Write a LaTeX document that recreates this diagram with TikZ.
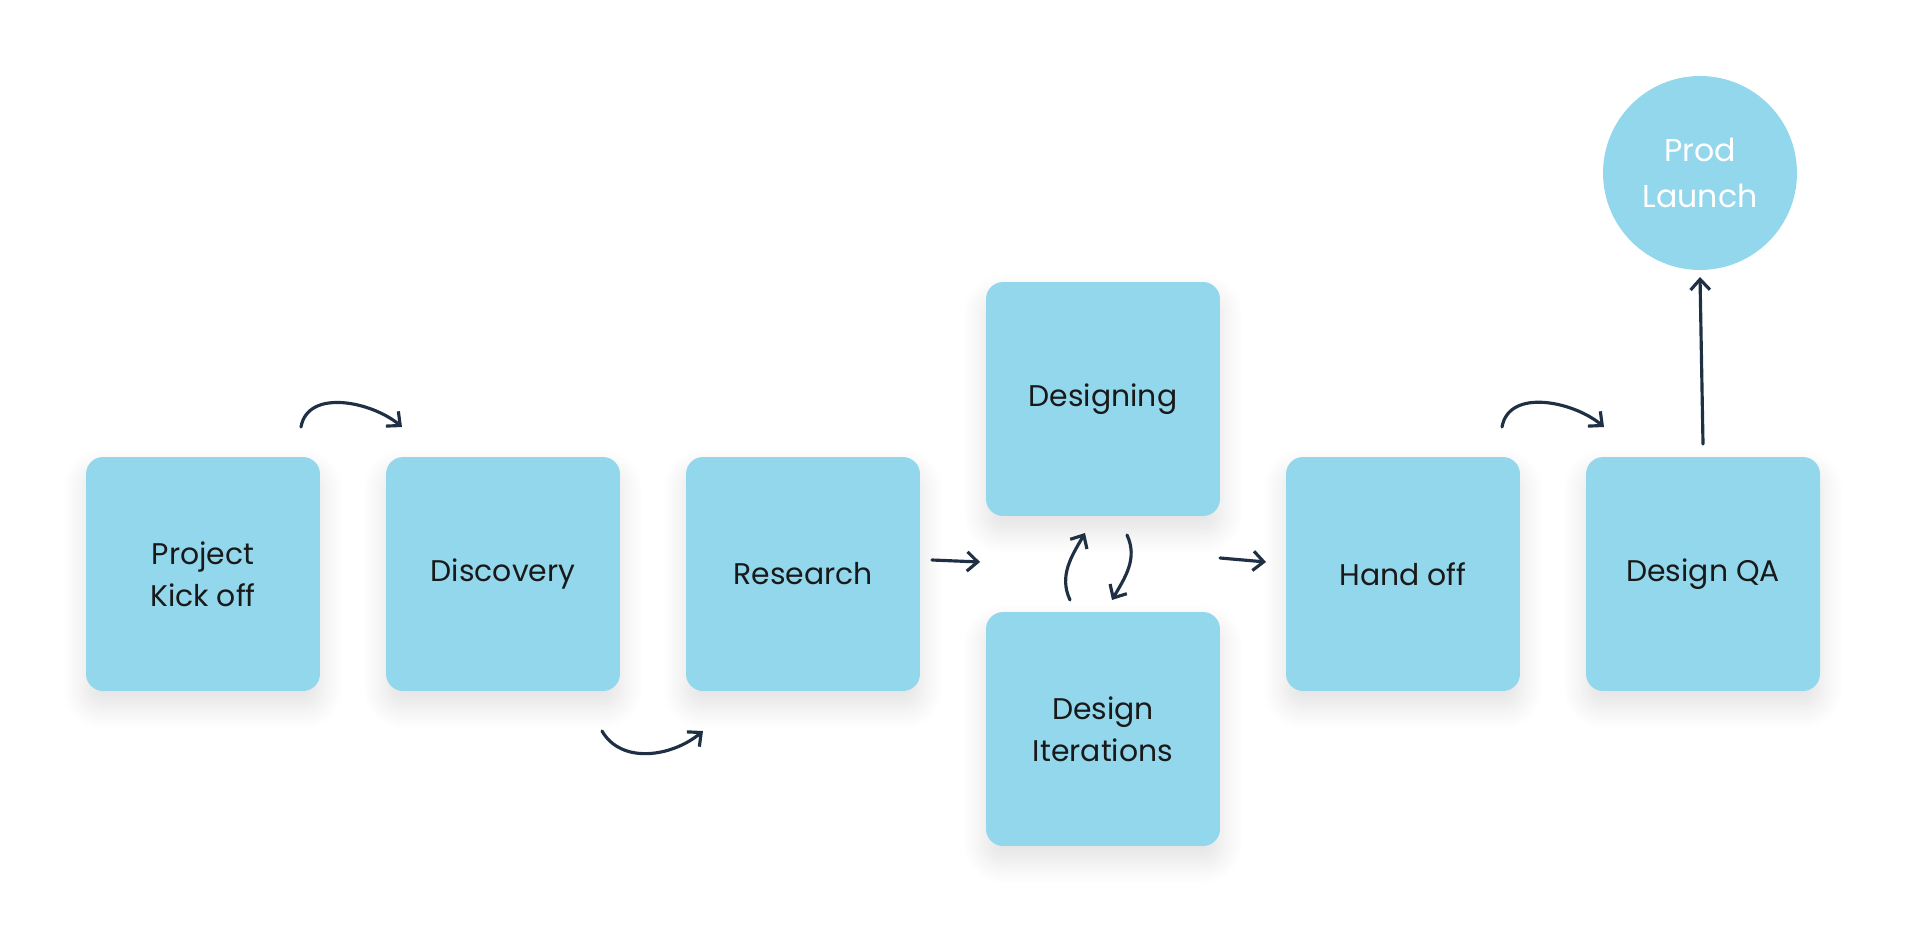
\documentclass[tikz,border=0pt]{standalone}
\usepackage{fontspec}
\setmainfont{Poppins}
\usetikzlibrary{arrows.meta}
\usetikzlibrary{shadows.blur}
\usetikzlibrary{positioning}

\definecolor{stageblue}{HTML}{93D7EC}
\definecolor{inkdark}{HTML}{1F2F44}

\tikzset{
  stage/.style={rectangle, rounded corners=0.34cm, fill=stageblue, minimum size=4.68cm,
    align=center, text=black!90, font=\fontsize{17}{24}\selectfont,
    blur shadow={shadow xshift=0pt, shadow yshift=-0.3cm, shadow blur radius=0.45cm,
      shadow blur steps=14, shadow opacity=12}},
  launch/.style={circle, fill=stageblue, minimum size=3.88cm, align=center, text=white,
    font=\fontsize{18}{26}\selectfont},
  flow/.style={draw=inkdark, line width=1.8pt, line cap=round, -{Straight Barb[length=6pt,width=11pt]}}
}

\begin{document}
\begin{tikzpicture}[x=0.02cm, y=0.02cm]
        \useasboundingbox (0,0) rectangle (1920,924);

        \node[stage] (kickoff) at (203, 350) {Project\\Kick off};
        \node[stage] (discovery) at (503, 350) {Discovery};
        \node[stage] (research) at (803, 350) {Research};
        \node[stage] (designing) at (1103, 525) {Designing};
        \node[stage] (iterations) at (1103, 195) {Design\\Iterations};
        \node[stage] (handoff) at (1403, 350) {Hand off};
        \node[stage] (designqa) at (1703, 350) {Design QA};
        \node[launch] (prodlaunch) at (1700, 751) {Prod\\Launch};

        % loose ends of the hand drawn arrows
        \coordinate (k1) at (301, 497);
        \coordinate (k2) at (402, 497);
        \coordinate (d1) at (602, 193);
        \coordinate (d2) at (703, 193);
        \coordinate (r1) at (932, 364);
        \coordinate (r2) at (980, 362);
        \coordinate (l1) at (1070, 324);
        \coordinate (l2) at (1085, 391);
        \coordinate (l3) at (1127, 389);
        \coordinate (l4) at (1112, 324);
        \coordinate (h1) at (1220, 366);
        \coordinate (h2) at (1266, 362);
        \coordinate (q1) at (1502, 497);
        \coordinate (q2) at (1604, 497);
        \coordinate (p1) at (1703, 480);
        \coordinate (p2) at (1700, 647);

        \draw[flow] (k1) to[out=80, in=140] (k2);
        \draw[flow] (d1) to[out=-60, in=220] (d2);
        \draw[flow] (r1) -- (r2);
        \draw[flow] (l1) to[out=115, in=240] (l2);
        \draw[flow] (l3) to[out=-65, in=60] (l4);
        \draw[flow] (h1) -- (h2);
        \draw[flow] (q1) to[out=80, in=140] (q2);
        \draw[flow] (p1) -- (p2);
      \end{tikzpicture}
\end{document}
